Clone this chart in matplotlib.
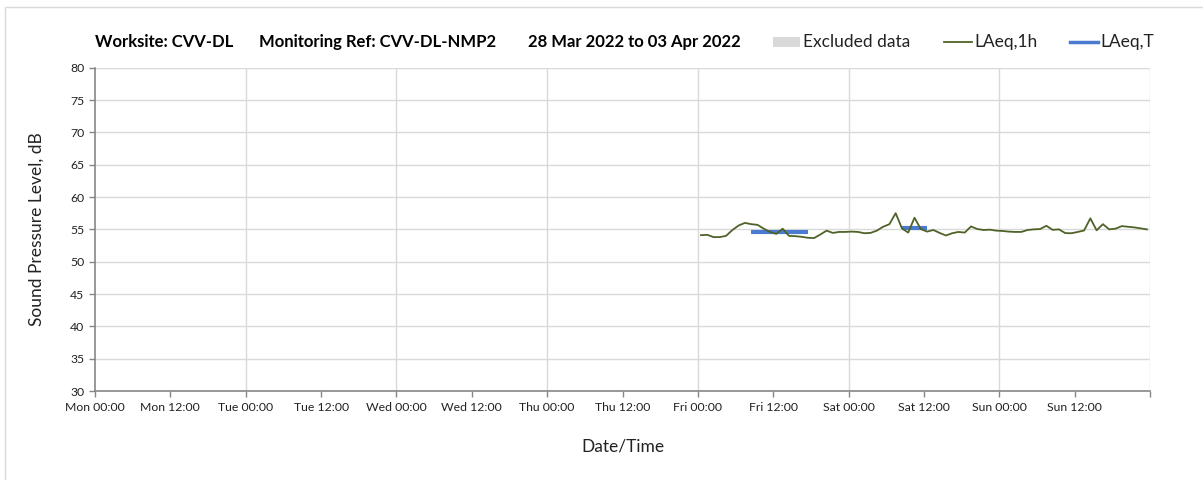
import numpy as np
import matplotlib
matplotlib.use('Agg')
from matplotlib import pyplot as plt
from matplotlib.patches import Rectangle
from matplotlib.lines import Line2D

plt.rcParams['font.family'] = ['Lato', 'DejaVu Sans']

# hourly LAeq,1h, Fri 00:30 .. Sun 23:30 (hours after Mon 00:00)
laeq_1h = [54.1, 54.15, 53.8, 53.8, 54.0, 54.9, 55.6, 56.0, 55.8, 55.7,
           55.1, 54.6, 54.3, 55.1, 54.0, 53.95, 53.85, 53.7, 53.65, 54.2,
           54.8, 54.45, 54.6, 54.6, 54.65, 54.6, 54.4, 54.45, 54.8, 55.4,
           55.8, 57.5, 55.15, 54.5, 56.8, 55.05, 54.65, 54.9, 54.45, 54.05,
           54.4, 54.6, 54.5, 55.45, 55.05, 54.9, 54.95, 54.8, 54.75, 54.65,
           54.6, 54.6, 54.9, 55.0, 55.05, 55.55, 54.92, 55.0, 54.42, 54.4,
           54.6, 54.82, 56.7, 54.85, 55.8, 55.0, 55.1, 55.5, 55.4, 55.3,
           55.15, 55.0]
hour_start = 96.5
hours_1h = hour_start + np.arange(len(laeq_1h))

# LAeq,T periods (start hour, end hour, level)
laeq_t_start = [104.5, 128.5]
laeq_t_end = [113.5, 132.5]
laeq_t_value = [54.6, 55.25]

tick_labels = ['Mon 00:00', 'Mon 12:00', 'Tue 00:00', 'Tue 12:00', 'Wed 00:00',
               'Wed 12:00', 'Thu 00:00', 'Thu 12:00', 'Fri 00:00', 'Fri 12:00',
               'Sat 00:00', 'Sat 12:00', 'Sun 00:00', 'Sun 12:00', '']

green = '#4f6228'
blue = '#4a7bd0'
grid_c = '#d9d9d9'
axis_c = '#868686'
txt_c = '#222222'

W, H = 1203, 480
fig = plt.figure(figsize=(W / 100, H / 100), dpi=100)
ax = fig.add_axes([95/W, 1-391/H, (1150-95)/W, (391-67.7)/H])

ax.plot(hours_1h, laeq_1h, color=green, lw=1.3, zorder=3)
for s, e, v in zip(laeq_t_start, laeq_t_end, laeq_t_value):
    ax.plot([s, e], [v, v], color=blue, lw=3, solid_capstyle='butt', zorder=2)

ax.set_xlim(0, 168)
ax.set_ylim(30, 80)
ax.set_xticks(np.arange(0, 169, 12))
ax.set_xticklabels(tick_labels)
ax.set_yticks(np.arange(30, 81, 5))
ax.tick_params(axis='both', colors=axis_c, labelcolor=txt_c, labelsize=8.8, length=4, width=1)
ax.tick_params(axis='x', pad=4)

for y in np.arange(35, 81, 5):
    ax.axhline(y, color=grid_c, lw=1, zorder=0)
for x in np.arange(24, 169, 24):
    ax.axvline(x, color=grid_c, lw=1, zorder=0)

for side in ['top', 'right']:
    ax.spines[side].set_visible(False)
for side in ['left', 'bottom']:
    ax.spines[side].set_color(axis_c)
    ax.spines[side].set_linewidth(1.2)

ax.set_ylabel('Sound Pressure Level, dB', fontsize=12.5, color=txt_c, labelpad=18.5)
ax.set_xlabel('Date/Time', fontsize=12.5, color=txt_c, labelpad=18)

# title pieces
ty = 1 - 42/H
fig.text(95/W, ty, 'Worksite: CVV-DL', fontsize=12, fontweight='bold', va='center')
fig.text(259/W, ty, 'Monitoring Ref: CVV-DL-NMP2', fontsize=12, fontweight='bold', va='center')
fig.text(528/W, ty, '28 Mar 2022 to 03 Apr 2022', fontsize=12, fontweight='bold', va='center')

# legend, drawn by hand to match the spacing
fig.patches.append(Rectangle((773/W, 1-47/H), 27/W, 10/H, transform=fig.transFigure,
                             facecolor=grid_c, edgecolor='none'))
fig.text(803/W, ty, 'Excluded data', fontsize=12.5, va='center', color=txt_c)
fig.lines.append(Line2D([944/W, 972/W], [ty, ty], transform=fig.transFigure, color=green, lw=1.3))
fig.text(974/W, ty, 'LAeq,1h', fontsize=12.5, va='center', color=txt_c)
fig.lines.append(Line2D([1070/W, 1098/W], [ty, ty], transform=fig.transFigure, color=blue, lw=2.5))
fig.text(1100/W, ty, 'LAeq,T', fontsize=12.5, va='center', color=txt_c)

fig.patches.append(Rectangle((5/W, -0.1), 1.2, 1 - 7/H + 0.1, transform=fig.transFigure,
                             fill=False, edgecolor='#d9d9d9', lw=1, zorder=-1))

fig.savefig('out.png', dpi=100)
